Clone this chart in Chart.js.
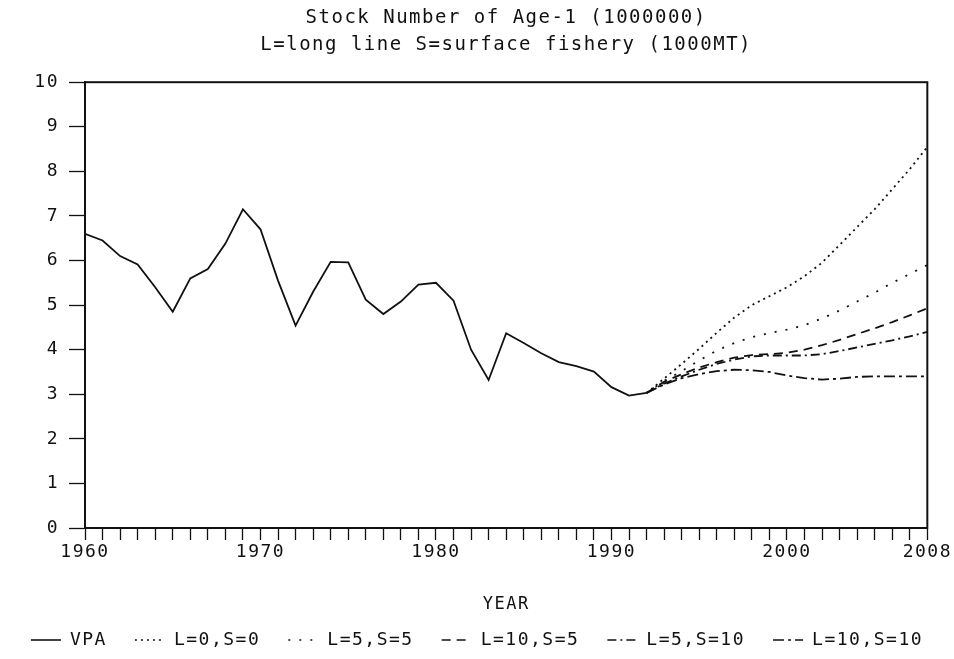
<!DOCTYPE html>
<html><head><meta charset="utf-8">
<script src="https://cdn.jsdelivr.net/npm/chart.js@4.4.0/dist/chart.umd.min.js"></script>
<style>html,body{margin:0;padding:0;background:#fff;}</style>
</head><body>
<canvas id="c" width="954" height="659"></canvas>
<script>
const titleLines = ['Stock Number of Age-1 (1000000)', 'L=long line S=surface fishery (1000MT)'];
const xAxisTitle = 'YEAR';
const xTickLabels = [1960, 1970, 1980, 1990, 2000, 2008];
const seriesNames = ['VPA', 'L=0,S=0', 'L=5,S=5', 'L=10,S=5', 'L=5,S=10', 'L=10,S=10'];

const vpaYears = [1960,1961,1962,1963,1964,1965,1966,1967,1968,1969,1970,1971,1972,1973,1974,1975,1976,1977,1978,1979,1980,1981,1982,1983,1984,1985,1986,1987,1988,1989,1990,1991,1992];
const vpa      = [6.60,6.45,6.10,5.91,5.40,4.85,5.60,5.81,6.38,7.15,6.70,5.55,4.54,5.30,5.97,5.96,5.12,4.80,5.08,5.46,5.50,5.10,4.00,3.32,4.37,4.15,3.92,3.72,3.63,3.51,3.16,2.97,3.03];

const projYears = [1992,1993,1994,1995,1996,1997,1998,1999,2000,2001,2002,2003,2004,2005,2006,2007,2008];
const l0s0   = [3.03,3.35,3.68,4.02,4.38,4.72,5.00,5.20,5.40,5.65,5.95,6.35,6.75,7.15,7.60,8.05,8.55];
const l5s5   = [3.03,3.30,3.52,3.76,3.98,4.15,4.28,4.37,4.45,4.55,4.70,4.88,5.08,5.28,5.50,5.70,5.90];
const l10s5  = [3.03,3.28,3.45,3.60,3.72,3.82,3.88,3.90,3.93,4.00,4.10,4.22,4.35,4.48,4.62,4.77,4.93];
const l5s10  = [3.03,3.24,3.40,3.55,3.68,3.78,3.85,3.87,3.87,3.87,3.90,3.97,4.05,4.13,4.21,4.30,4.40];
const l10s10 = [3.03,3.22,3.36,3.45,3.52,3.55,3.54,3.50,3.42,3.36,3.33,3.35,3.39,3.40,3.40,3.40,3.40];

const FONT = "'DejaVu Sans Mono', 'Liberation Mono', monospace";
const INK = '#111';
const LS = '1.5px';

function pts(xs, ys) { return xs.map((x, i) => ({ x: x, y: ys[i] })); }
function ds(label, xs, ys, dash) {
  return { label: label, data: pts(xs, ys), borderColor: INK, backgroundColor: INK,
           borderWidth: 1.8, borderDash: dash, pointRadius: 0, tension: 0, fill: false };
}

const spacing = {
  id: 'spacing',
  beforeUpdate(chart) { chart.ctx.letterSpacing = LS; },
  beforeDraw(chart) { chart.ctx.letterSpacing = LS; }
};
const centerTitle = {
  id: 'centerTitle',
  afterLayout(chart) {
    const t = chart.titleBlock, a = chart.chartArea;
    if (t && a) { t.left = a.left; t.right = a.right; t.width = a.right - a.left; }
  }
};
const frame = {
  id: 'frame',
  afterDraw(chart) {
    const a = chart.chartArea, c = chart.ctx;
    c.save(); c.strokeStyle = INK; c.lineWidth = 2; c.setLineDash([]);
    c.strokeRect(a.left, a.top, a.right - a.left, a.bottom - a.top);
    c.restore();
  }
};

new Chart(document.getElementById('c'), {
  type: 'line',
  data: {
    datasets: [
      ds(seriesNames[0], vpaYears, vpa, []),
      ds(seriesNames[1], projYears, l0s0, [2, 4]),
      ds(seriesNames[2], projYears, l5s5, [2, 9]),
      ds(seriesNames[3], projYears, l10s5, [9, 6]),
      ds(seriesNames[4], projYears, l5s10, [9, 4, 2, 4]),
      ds(seriesNames[5], projYears, l10s10, [11, 4, 3, 4])
    ]
  },
  plugins: [spacing, centerTitle, frame],
  options: {
    responsive: false,
    animation: false,
    devicePixelRatio: 1,
    layout: { padding: { left: 0, right: 0, top: 0, bottom: 0 } },
    plugins: {
      title: { display: true, text: titleLines, color: INK,
               font: { family: FONT, size: 19, weight: 'normal', lineHeight: 1.4 },
               padding: { top: 5, bottom: 24 } },
      legend: { position: 'bottom',
                labels: { color: INK, usePointStyle: true, pointStyle: 'line', pointStyleWidth: 30,
                          padding: 28, font: { family: FONT, size: 18 },
                          generateLabels(chart) {
                            const items = Chart.defaults.plugins.legend.labels.generateLabels(chart);
                            items.forEach((it, i) => {
                              const d = chart.data.datasets[it.datasetIndex != null ? it.datasetIndex : i];
                              it.lineDash = d.borderDash; it.strokeStyle = INK; it.lineWidth = 1.6;
                              it.pointStyle = 'line';
                            });
                            return items;
                          } } },
      tooltip: { enabled: false }
    },
    scales: {
      x: {
        type: 'linear', min: 1960, max: 2008,
        border: { display: true, color: INK, width: 2 },
        grid: { drawOnChartArea: false, drawTicks: true, tickLength: 12, color: INK, tickWidth: 1.3 },
        ticks: { stepSize: 1, autoSkip: false, maxRotation: 0, color: INK, padding: 2,
                 font: { family: FONT, size: 18 },
                 callback: (v) => xTickLabels.includes(v) ? String(v) : '' },
        title: { display: true, text: xAxisTitle, color: INK, font: { family: FONT, size: 17 },
                 padding: { top: 29, bottom: -12 } }
      },
      y: {
        min: 0, max: 10,
        afterFit(scale) { scale.width = 85; },
        border: { display: true, color: INK, width: 2 },
        grid: { drawOnChartArea: false, drawTicks: true, tickLength: 16, color: INK, tickWidth: 1.3 },
        ticks: { stepSize: 1, color: INK, padding: 10, font: { family: FONT, size: 18 } }
      }
    }
  }
});
</script>
</body></html>
